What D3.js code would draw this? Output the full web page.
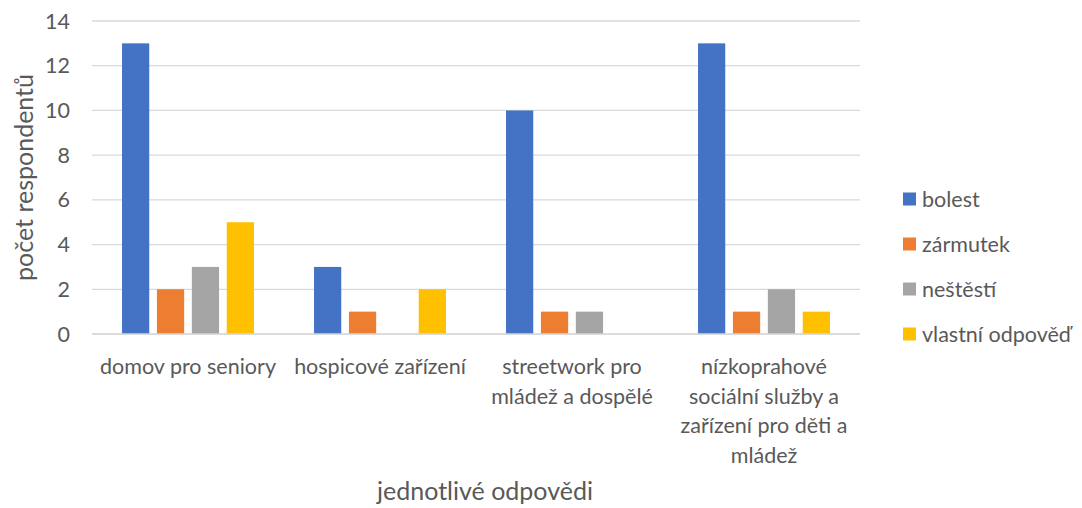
<!DOCTYPE html>
<html>
<head>
<meta charset="utf-8">
<script src="https://cdn.jsdelivr.net/npm/d3@7"></script>
<style>
  body { margin: 0; background: #fff; }
  text { font-family: Lato, "Open Sans", sans-serif; fill: #595959; }
</style>
</head>
<body>
<svg id="chart" width="1082" height="508"></svg>
<script>
const categories = ["domov pro seniory", "hospicové zařízení", "streetwork pro mládež a dospělé", "nízkoprahové sociální služby a zařízení pro děti a mládež"];
// how Excel wrapped the category labels
const categoryLines = [
    ["domov pro seniory"],
    ["hospicové zařízení"],
    ["streetwork pro", "mládež a dospělé"],
    ["nízkoprahové", "sociální služby a", "zařízení pro děti a", "mládež"]
];
const seriesNames = ["bolest", "zármutek", "neštěstí", "vlastní odpověď"];
const bolest = [13, 3, 10, 13];
const zarmutek = [2, 1, 1, 1];
const nestesti = [3, 0, 1, 2];
const vlastni = [5, 2, 0, 1];
const yTicks = [0, 2, 4, 6, 8, 10, 12, 14];
const colors = ["#4472c4", "#ed7d31", "#a5a5a5", "#ffc000"];

const seriesValues = [bolest, zarmutek, nestesti, vlastni];

const svg = d3.select("#chart");
const plotLeft = 92, plotRight = 860, plotTop = 21, plotBottom = 334;
const labelSize = "21.5px", titleSize = "25px";

// category bands
let x0 = d3.scaleBand()
    .domain(categories)
    .range([plotLeft, plotRight])
    .padding(0);

// bars inside one category
let x1 = d3.scaleBand()
    .domain(seriesNames)
    .range([0, x0.bandwidth()])
    .paddingInner(0.22)
    .paddingOuter(0.86);

let y = d3.scaleLinear()
    .domain([0, 14])
    .range([plotBottom, plotTop]);

// gridlines
svg.append("g")
    .selectAll("line")
    .data(yTicks)
    .enter()
    .append("line")
    .attr("x1", plotLeft)
    .attr("x2", plotRight)
    .attr("y1", d => y(d))
    .attr("y2", d => y(d))
    .attr("stroke", "#d9d9d9")
    .attr("stroke-width", 1.3);

// y tick labels
svg.append("g")
    .selectAll("text")
    .data(yTicks)
    .enter()
    .append("text")
    .attr("x", 70)
    .attr("y", d => y(d))
    .attr("dy", "0.35em")
    .attr("text-anchor", "end")
    .style("font-size", labelSize)
    .text(d => d);

// bars
const groups = svg.append("g")
    .selectAll("g")
    .data(categories)
    .enter()
    .append("g")
    .attr("transform", d => `translate(${x0(d)},0)`);

groups.selectAll("rect")
    .data((c, i) => seriesNames.map((s, j) => ({ s: s, v: seriesValues[j][i], color: colors[j] })))
    .enter()
    .append("rect")
    .attr("x", d => x1(d.s))
    .attr("y", d => y(d.v))
    .attr("width", x1.bandwidth())
    .attr("height", d => plotBottom - y(d.v))
    .attr("fill", d => d.color);

// baseline on top of bars
svg.append("line")
    .attr("x1", plotLeft).attr("x2", plotRight)
    .attr("y1", plotBottom).attr("y2", plotBottom)
    .attr("stroke", "#d9d9d9")
    .attr("stroke-width", 1.3);

// category labels
svg.append("g")
    .selectAll("text")
    .data(categories)
    .enter()
    .append("text")
    .attr("text-anchor", "middle")
    .style("font-size", labelSize)
    .each(function (d, i) {
        const t = d3.select(this);
        categoryLines[i].forEach((line, k) => {
            t.append("tspan")
                .attr("x", x0(d) + x0.bandwidth() / 2)
                .attr("y", 374 + k * 29.5)
                .text(line);
        });
    });

// axis titles
svg.append("text")
    .attr("x", 485)
    .attr("y", 500)
    .attr("text-anchor", "middle")
    .style("font-size", titleSize)
    .text("jednotlivé odpovědi");

svg.append("text")
    .attr("transform", `translate(33,${(plotTop + plotBottom) / 2}) rotate(-90)`)
    .attr("text-anchor", "middle")
    .style("font-size", titleSize)
    .text("počet respondentů");

// legend
const legend = svg.append("g")
    .selectAll("g")
    .data(seriesNames)
    .enter()
    .append("g")
    .attr("transform", (d, i) => `translate(903,${199 + i * 45})`);

legend.append("rect")
    .attr("x", 0)
    .attr("y", -6.5)
    .attr("width", 13)
    .attr("height", 13)
    .attr("fill", (d, i) => colors[i]);

legend.append("text")
    .attr("x", 19)
    .attr("y", 0)
    .attr("dy", "0.35em")
    .style("font-size", labelSize)
    .text(d => d);
</script>
</body>
</html>
